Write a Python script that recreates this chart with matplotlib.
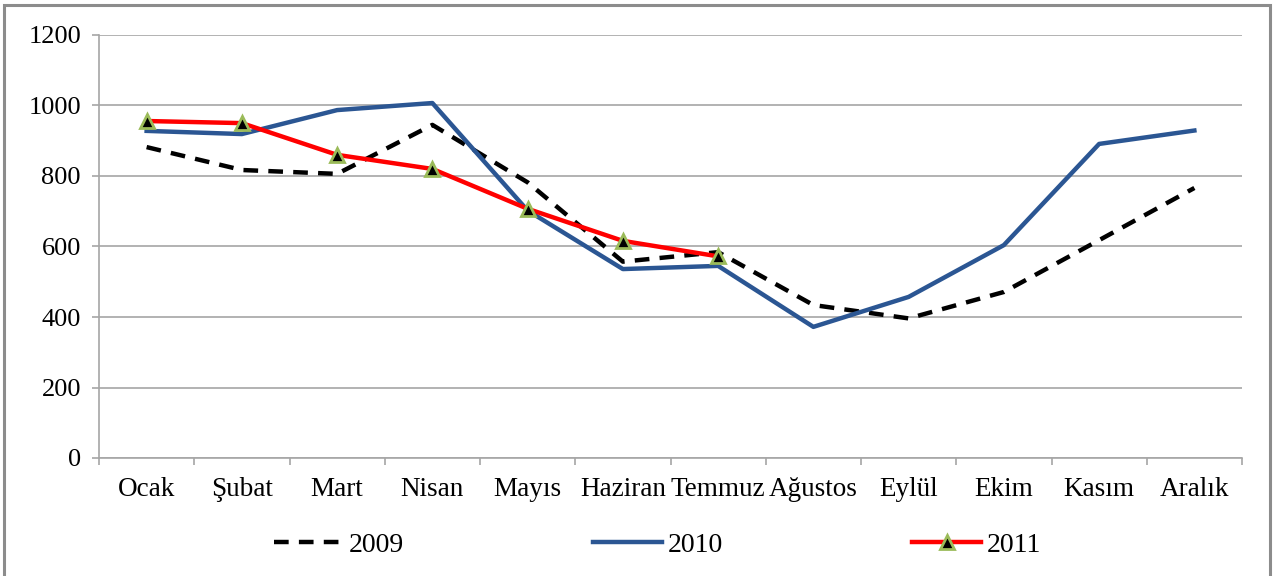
import matplotlib
matplotlib.use("Agg")
import matplotlib.pyplot as plt
from matplotlib.patches import Rectangle
import numpy as np

months = ["Ocak", "Şubat", "Mart", "Nisan", "Mayıs", "Haziran", "Temmuz",
          "Ağustos", "Eylül", "Ekim", "Kasım", "Aralık"]
y2009 = [882, 817, 806, 945, 782, 557, 584, 434, 396, 471, 618, 766]
y2010 = [928, 919, 987, 1007, 702, 536, 545, 372, 457, 604, 891, 929]
y2011 = [956, 950, 860, 820, 707, 616, 572]
yticks = [0, 200, 400, 600, 800, 1000, 1200]

plt.rcParams['font.family'] = ['Liberation Serif', 'DejaVu Serif']

fig = plt.figure(figsize=(12.78, 5.76), dpi=100)
ax = fig.add_axes([99/1278, 1-458/576, (1242-99)/1278, (458-35)/576])

x = np.arange(len(months))
blue = '#2B5693'
ax.plot(x, y2009, color='black', lw=3.2, linestyle=(0, (3.3, 2.3)), zorder=3, label='2009')
ax.plot(x, y2010, color=blue, lw=3.2, zorder=4, label='2010')
ax.plot(x[:len(y2011)], y2011, color='#FF0000', lw=3.2, marker='^', markersize=10,
        markerfacecolor='black', markeredgecolor='#9BBB59', markeredgewidth=2,
        zorder=5, label='2011')

ax.set_xlim(-0.5, len(months) - 0.5)
ax.set_ylim(0, 1200)
ax.set_yticks(yticks)
ax.set_xticks(x)
ax.set_xticklabels(months)
ax.set_xticks(np.arange(-0.5, len(months), 1.0), minor=True)

grid_c = '#A6A6A6'
ax.yaxis.grid(True, color=grid_c, lw=1.2, zorder=0)
ax.set_axisbelow(True)
for s in ['top', 'right']:
    ax.spines[s].set_visible(False)
for s in ['left', 'bottom']:
    ax.spines[s].set_color(grid_c)
    ax.spines[s].set_linewidth(1.2)

ax.tick_params(axis='y', length=5, width=1.2, color=grid_c, pad=8, labelsize=19)
ax.tick_params(axis='x', which='major', length=0, pad=14, labelsize=19.5)
ax.tick_params(axis='x', which='minor', length=5, width=1.2, color=grid_c)

leg = fig.legend(loc='center', bbox_to_anchor=(0.5145, 0.054), ncol=3, frameon=False,
                 fontsize=20, handlelength=2.5, handletextpad=0.2, columnspacing=6.8)

fig.patches.append(Rectangle((4/1278, -0.02), (1270-4)/1278, 1 - 5/576 + 0.02,
                             transform=fig.transFigure, fill=False,
                             edgecolor='#8C8C8C', lw=2.2))

fig.savefig('out.png', dpi=100)
